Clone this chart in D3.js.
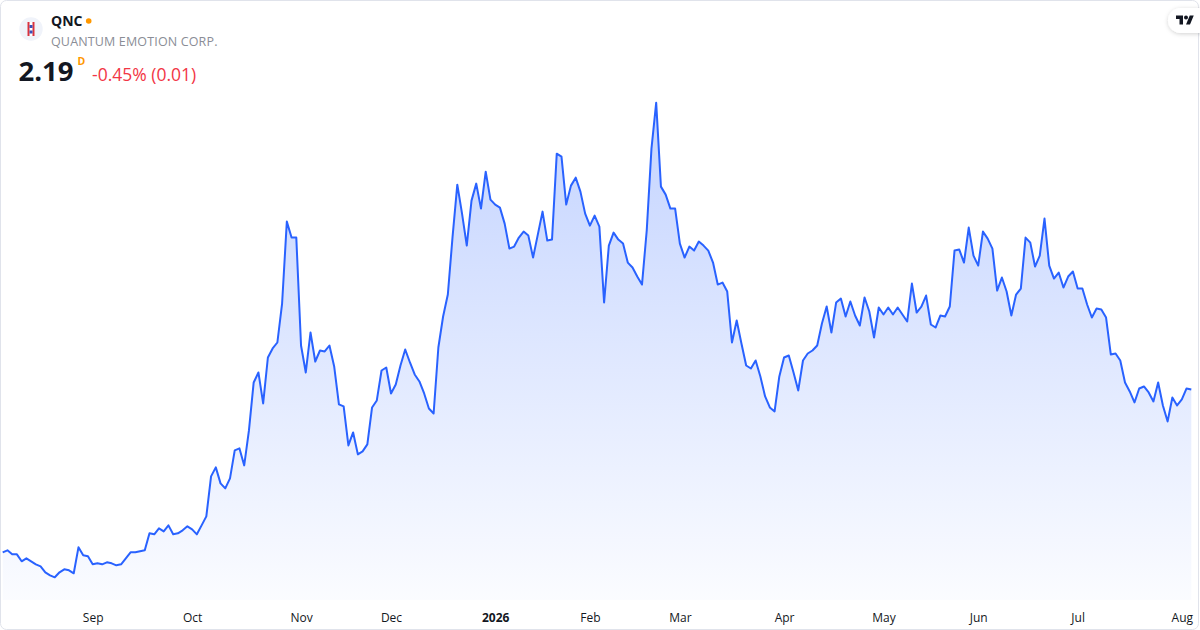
<!DOCTYPE html>
<html>
<head>
<meta charset="utf-8">
<script src="https://cdnjs.cloudflare.com/ajax/libs/d3/7.8.5/d3.min.js"></script>
<style>
    html, body { margin: 0; padding: 0; background: #fff; }
    svg { display: block; font-family: "Open Sans", "Noto Sans", sans-serif; }
</style>
</head>
<body>
<script>
const symbol = 'QNC'
const company = 'QUANTUM EMOTION CORP.'
const lastPrice = '2.19'
const change = '-0.45% (0.01)'

// daily closes, Aug 2025 -> Aug 2026
const prices = [
    0.56, 0.58, 0.54, 0.54, 0.47, 0.50, 0.47, 0.44, 0.42, 0.36,
    0.33, 0.31, 0.36, 0.39, 0.38, 0.35, 0.61, 0.53, 0.52, 0.44,
    0.45, 0.44, 0.46, 0.45, 0.43, 0.44, 0.50, 0.56, 0.56, 0.57,
    0.58, 0.75, 0.74, 0.80, 0.77, 0.83, 0.74, 0.75, 0.78, 0.82,
    0.79, 0.74, 0.83, 0.92, 1.32, 1.41, 1.25, 1.20, 1.30, 1.58,
    1.60, 1.43, 1.78, 2.26, 2.36, 2.05, 2.51, 2.60, 2.66, 3.05,
    3.87, 3.71, 3.71, 2.63, 2.36, 2.76, 2.47, 2.58, 2.57, 2.63,
    2.42, 2.04, 2.02, 1.63, 1.76, 1.54, 1.57, 1.64, 2.01, 2.08,
    2.38, 2.41, 2.15, 2.24, 2.43, 2.59, 2.46, 2.34, 2.27, 2.15,
    2.00, 1.95, 2.61, 2.92, 3.14, 3.72, 4.24, 3.95, 3.63, 4.08,
    4.25, 4.00, 4.37, 4.09, 4.04, 4.01, 3.85, 3.60, 3.62, 3.71,
    3.77, 3.73, 3.51, 3.74, 3.97, 3.68, 3.69, 4.55, 4.52, 4.04,
    4.23, 4.31, 4.17, 3.95, 3.83, 3.93, 3.82, 3.06, 3.63, 3.76,
    3.69, 3.65, 3.46, 3.41, 3.32, 3.24, 3.78, 4.60, 5.06, 4.22,
    4.14, 4.00, 4.00, 3.65, 3.51, 3.62, 3.58, 3.67, 3.63, 3.58,
    3.46, 3.24, 3.26, 3.17, 2.66, 2.88, 2.65, 2.43, 2.40, 2.48,
    2.32, 2.12, 2.01, 1.97, 2.32, 2.51, 2.53, 2.36, 2.18, 2.48,
    2.55, 2.58, 2.63, 2.85, 3.02, 2.76, 3.06, 3.10, 2.92, 3.07,
    2.93, 2.83, 3.11, 2.97, 2.71, 3.01, 2.94, 3.01, 2.94, 3.01,
    2.94, 2.87, 3.25, 2.96, 3.02, 3.13, 2.84, 2.81, 2.93, 2.92,
    3.02, 3.58, 3.59, 3.46, 3.81, 3.53, 3.43, 3.77, 3.70, 3.60,
    3.18, 3.31, 3.17, 2.93, 3.14, 3.20, 3.71, 3.66, 3.42, 3.53,
    3.90, 3.43, 3.30, 3.36, 3.21, 3.32, 3.37, 3.20, 3.20, 3.04,
    2.91, 3.00, 2.99, 2.91, 2.54, 2.55, 2.48, 2.26, 2.17, 2.06,
    2.20, 2.22, 2.16, 2.07, 2.26, 2.03, 1.87, 2.11, 2.03, 2.09,
    2.20, 2.19
]

// bar index of the first session of each month
const tickIndex = [19, 40, 63, 82, 104, 124, 143, 165, 186, 206, 227, 249]
const tickLabels = ['Sep', 'Oct', 'Nov', 'Dec', '2026', 'Feb', 'Mar', 'Apr', 'May', 'Jun', 'Jul', 'Aug']

const W = 1200, H = 630
const lineColor = '#2962ff'

let svg = d3.select('body').append('svg')
    .attr('width', W)
    .attr('height', H)

// frame
svg.append('rect')
    .attr('x', 0.5).attr('y', 0.5)
    .attr('width', W - 2).attr('height', H - 1)
    .attr('rx', 6)
    .attr('fill', '#fff')
    .attr('stroke', '#e0e3eb')

let x = d3.scaleLinear().domain([0, prices.length - 1]).range([2.7, 1191.3])
let y = d3.scaleLinear().domain(d3.extent(prices)).range([577.3, 102.7])
const baseY = 600

let defs = svg.append('defs')
let grad = defs.append('linearGradient')
    .attr('id', 'fillGrad')
    .attr('gradientUnits', 'userSpaceOnUse')
    .attr('x1', 0).attr('y1', y(d3.max(prices)))
    .attr('x2', 0).attr('y2', baseY)
grad.append('stop').attr('offset', 0).attr('stop-color', lineColor).attr('stop-opacity', 0.28)
grad.append('stop').attr('offset', 1).attr('stop-color', lineColor).attr('stop-opacity', 0.02)

let shadow = defs.append('filter').attr('id', 'shadow')
    .attr('x', '-50%').attr('y', '-50%').attr('width', '200%').attr('height', '200%')
shadow.append('feDropShadow')
    .attr('dx', 0).attr('dy', 1).attr('stdDeviation', 2)
    .attr('flood-color', '#000').attr('flood-opacity', 0.18)

let area = d3.area()
    .x((d, i) => x(i))
    .y0(baseY)
    .y1(d => y(d))

let line = d3.line()
    .x((d, i) => x(i))
    .y(d => y(d))

svg.append('path')
    .datum(prices)
    .attr('d', area)
    .attr('fill', 'url(#fillGrad)')

svg.append('path')
    .datum(prices)
    .attr('d', line)
    .attr('fill', 'none')
    .attr('stroke', lineColor)
    .attr('stroke-width', 2)
    .attr('stroke-linejoin', 'round')

// time axis, labels only
let xAxis = svg.append('g')
    .attr('class', 'axis axis--x')
    .attr('transform', 'translate(0,' + 613 + ')')
    .call(d3.axisBottom(x)
        .tickValues(tickIndex)
        .tickSize(0)
        .tickPadding(0)
        .tickFormat((d, i) => tickLabels[i]))
xAxis.select('.domain').remove()
xAxis.selectAll('text')
    .attr('dy', '0.71em')
    .attr('fill', '#131722')
    .attr('font-size', 12)
    .attr('font-family', '"Open Sans", "Noto Sans", sans-serif')
    .attr('font-weight', (d, i) => tickLabels[i] === '2026' ? 700 : 400)

// header
let logo = svg.append('g').attr('transform', 'translate(31,29)')
logo.append('circle').attr('r', 11.7).attr('fill', '#f0f3fa')
logo.append('rect').attr('x', -3.5).attr('y', -7).attr('width', 7).attr('height', 14).attr('fill', '#fff')
logo.append('rect').attr('x', -3.5).attr('y', -7).attr('width', 2).attr('height', 14).attr('fill', '#d8323f')
logo.append('rect').attr('x', 1.5).attr('y', -7).attr('width', 2).attr('height', 14).attr('fill', '#d8323f')
logo.append('rect').attr('x', -1.5).attr('y', -4).attr('width', 3).attr('height', 3).attr('fill', '#3a4fb8')
logo.append('rect').attr('x', -1.5).attr('y', 1.5).attr('width', 3).attr('height', 3).attr('fill', '#3a4fb8')

svg.append('text')
    .attr('x', 51).attr('y', 26)
    .attr('font-size', 14).attr('font-weight', 700)
    .attr('fill', '#131722')
    .text(symbol)
svg.append('circle')
    .attr('cx', 88.7).attr('cy', 21).attr('r', 2.8)
    .attr('fill', '#ff9800')
svg.append('text')
    .attr('x', 51).attr('y', 46)
    .attr('font-size', 12.5)
    .attr('letter-spacing', 0.15)
    .attr('fill', '#8a8d96')
    .text(company)
svg.append('text')
    .attr('x', 18.5).attr('y', 81)
    .attr('font-size', 27.5).attr('font-weight', 700)
    .attr('fill', '#131722')
    .text(lastPrice)
svg.append('text')
    .attr('x', 77.5).attr('y', 65)
    .attr('font-size', 10.5).attr('font-weight', 700)
    .attr('fill', '#ff9800')
    .text('D')
svg.append('text')
    .attr('x', 92).attr('y', 81)
    .attr('font-size', 17.5)
    .attr('fill', '#f23645')
    .text(change)

// TradingView badge
let badge = svg.append('g')
badge.append('rect')
    .attr('x', 1168).attr('y', 8)
    .attr('width', 44).attr('height', 25)
    .attr('rx', 12.5)
    .attr('fill', '#fff')
    .attr('filter', 'url(#shadow)')
let tv = badge.append('g').attr('transform', 'translate(1176,15.5) scale(0.5)')
tv.append('path')
    .attr('d', 'M14 18H7V7H0V0h14v18zM28 18h-8l7.5-18h8L28 18z')
    .attr('fill', '#131722')
tv.append('circle').attr('cx', 20).attr('cy', 4).attr('r', 4).attr('fill', '#131722')
</script>
</body>
</html>
